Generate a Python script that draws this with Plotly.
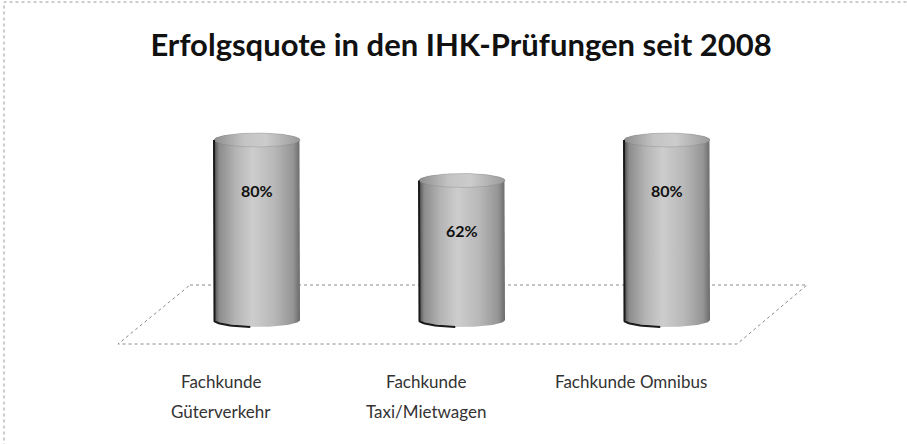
import numpy as np
import plotly.graph_objects as go

# ---- data ----
categories = ["Fachkunde<br>Güterverkehr", "Fachkunde<br>Taxi/Mietwagen", "Fachkunde Omnibus"]
values = [80, 62, 80]
value_labels = ["80%", "62%", "80%"]
title_text = "Erfolgsquote in den IHK-Prüfungen seit 2008"

# ---- layout geometry (style) ----
W, H = 907, 444
PX_PER_CAT = 205.0      # pixels between category centres
FIRST_CX = 257.0        # pixel of first category centre
BASE_PY = 320.0         # pixel row of value 0
PX_PER_VAL = 2.25       # pixels per percent
R = 43 / PX_PER_CAT     # cylinder radius in x units
RY = 7 / PX_PER_VAL     # ellipse half-height in y units
FONT = "Lato, 'Open Sans', sans-serif"

xrange_ = [-FIRST_CX / PX_PER_CAT, (W - FIRST_CX) / PX_PER_CAT]
yrange_ = [-(H - BASE_PY) / PX_PER_VAL, BASE_PY / PX_PER_VAL]

fig = go.Figure()

# floor (dotted parallelogram)
n = len(categories)
back_y = 35 / PX_PER_VAL
front_y = -24 / PX_PER_VAL
bx0, bx1 = -67 / PX_PER_CAT, (n - 1) + 140 / PX_PER_CAT
fx0, fx1 = -139 / PX_PER_CAT, (n - 1) + 70 / PX_PER_CAT
fig.add_trace(go.Scatter(
    x=[bx0, bx1, fx1, fx0, bx0], y=[back_y, back_y, front_y, front_y, back_y],
    mode="lines", line=dict(color="#8a8a8a", width=1, dash="dot"),
    hoverinfo="skip", showlegend=False))

t_front = np.linspace(np.pi, 2 * np.pi, 60)   # lower half (front)
t_back = np.linspace(0, np.pi, 60)            # upper half
t_full = np.linspace(0, 2 * np.pi, 120)

body_scale = [[0, "#4a4a4a"], [0.06, "#8c8c8c"], [0.25, "#b4b4b4"], [0.45, "#cdcdcd"],
              [0.7, "#b8b8b8"], [0.92, "#959595"], [1, "#6a6a6a"]]
top_scale = [[0, "#8e8e8e"], [0.35, "#c4c4c4"], [0.6, "#cccccc"], [1, "#9a9a9a"]]

for i, v in enumerate(values):
    cx = i
    xs = np.concatenate([[cx - R], cx + R * np.cos(t_front), [cx + R],
                         cx + R * np.cos(t_back)])
    ys = np.concatenate([[v], 0 + RY * np.sin(t_front), [v],
                         v + RY * np.sin(t_back)])
    fig.add_trace(go.Scatter(
        x=xs, y=ys, mode="lines", fill="toself",
        line=dict(color="rgba(0,0,0,0)", width=0),
        fillgradient=dict(type="horizontal", colorscale=body_scale),
        hoverinfo="skip", showlegend=False))
    # top ellipse
    fig.add_trace(go.Scatter(
        x=cx + R * np.cos(t_full), y=v + RY * np.sin(t_full),
        mode="lines", fill="toself",
        line=dict(color="rgba(120,120,120,0.6)", width=0.5),
        fillgradient=dict(type="horizontal", colorscale=top_scale),
        hoverinfo="skip", showlegend=False))
    # dark left edge + bottom-left rim
    t_rim = np.linspace(np.pi, 1.45 * np.pi, 20)
    fig.add_trace(go.Scatter(
        x=np.concatenate([[cx - R], cx + R * np.cos(t_rim)]),
        y=np.concatenate([[v], RY * np.sin(t_rim)]),
        mode="lines", line=dict(color="#1a1a1a", width=2),
        hoverinfo="skip", showlegend=False))
    # value label
    fig.add_annotation(x=cx, y=v, yshift=-50, text="<b>%s</b>" % value_labels[i], showarrow=False,
                       font=dict(family=FONT, size=16, color="#111111"),
                       xanchor="center", yanchor="middle")
    # category label (shifted left for the perspective)
    lines = categories[i].split("<br>")
    for k, line in enumerate(lines):
        py = 381 + 30 * k
        fig.add_annotation(x=cx - 36 / PX_PER_CAT, y=(BASE_PY - py) / PX_PER_VAL,
                           text=line, showarrow=False,
                           font=dict(family=FONT, size=17, color="#333333"),
                           xanchor="center", yanchor="middle")

# dotted outer border
fig.add_shape(type="rect", xref="paper", yref="paper",
              x0=4 / W, x1=1.02, y0=-0.05, y1=1 - 2 / H,
              line=dict(color="#9a9a9a", width=1, dash="dot"), layer="above")

fig.update_layout(
    width=W, height=H,
    margin=dict(l=0, r=0, t=0, b=0),
    paper_bgcolor="white", plot_bgcolor="white",
    title=dict(text=title_text, x=461 / W, xanchor="center", y=1 - 45 / H, yanchor="middle",
               font=dict(family=FONT, size=31, color="#111111", weight="bold")),
    xaxis=dict(range=xrange_, visible=False, fixedrange=True),
    yaxis=dict(range=yrange_, visible=False, fixedrange=True),
    showlegend=False,
)

fig.write_html("out.html", config={"displayModeBar": False},
               post_script="document.body.style.margin='0';")
